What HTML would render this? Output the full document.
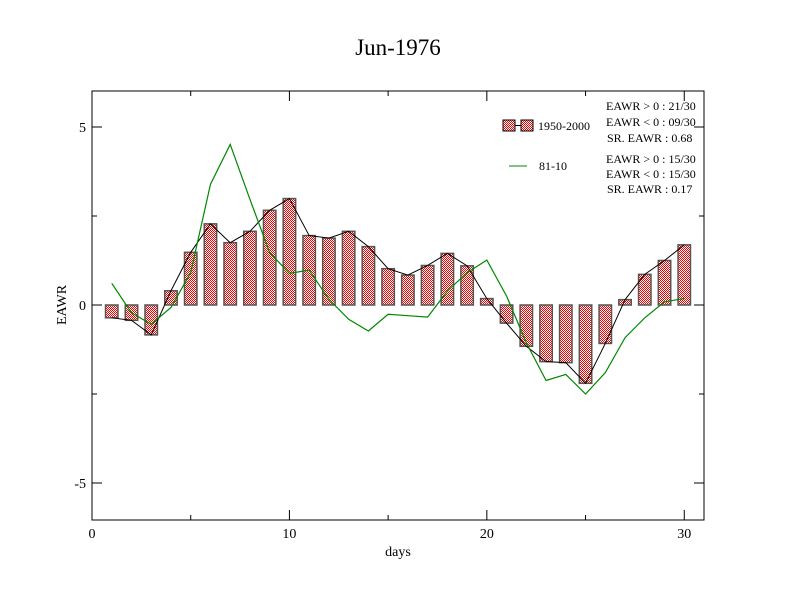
<!DOCTYPE html>
<html><head><meta charset="utf-8"><style>body{margin:0;background:#fff}svg{display:block;font-family:"Liberation Serif",serif}</style></head><body>
<svg id="chart" width="792" height="612" viewBox="0 0 792 612">
<defs><pattern id="chk" width="2" height="2" patternUnits="userSpaceOnUse"><rect width="2" height="2" fill="#fff"/><rect width="1" height="1" fill="#e00"/><rect x="1" y="1" width="1" height="1" fill="#e00"/></pattern></defs>
<text x="398" y="55" font-size="23" text-anchor="middle">Jun-1976</text>
<rect x="92" y="91" width="612" height="429" fill="none" stroke="#000" stroke-width="1"/>
<g id="axes"></g>
<g id="marks"></g>
<text x="398" y="556" font-size="14" text-anchor="middle">days</text>
<text transform="translate(66,305) rotate(-90)" font-size="14" text-anchor="middle">EAWR</text>
<g font-size="12">
<rect x="503" y="120" width="12" height="11" fill="url(#chk)" stroke="#000"/><line x1="515" y1="125.5" x2="521" y2="125.5" stroke="#000"/><rect x="521" y="120" width="12" height="11" fill="url(#chk)" stroke="#000"/>
<text x="538" y="130">1950-2000</text>
<line x1="509" y1="166" x2="527" y2="166" stroke="#080" stroke-width="1"/>
<text x="539" y="170">81-10</text>
<text x="606" font-size="12"><tspan x="606" y="110">EAWR &gt; 0 : 21/30</tspan><tspan x="606" y="126">EAWR &lt; 0 : 09/30</tspan><tspan x="607" y="142">SR. EAWR :  0.68</tspan></text>
<text x="606" font-size="12"><tspan x="606" y="163">EAWR &gt; 0 : 15/30</tspan><tspan x="606" y="178">EAWR &lt; 0 : 15/30</tspan><tspan x="607" y="193">SR. EAWR :  0.17</tspan></text>
</g>
</svg>
<script>
const days=[1,2,3,4,5,6,7,8,9,10,11,12,13,14,15,16,17,18,19,20,21,22,23,24,25,26,27,28,29,30];
const bars1950=[-0.36,-0.43,-0.84,0.40,1.48,2.28,1.75,2.07,2.66,2.99,1.95,1.88,2.07,1.64,1.02,0.84,1.11,1.45,1.10,0.18,-0.51,-1.16,-1.59,-1.62,-2.2,-1.08,0.15,0.86,1.25,1.69];
const line8110=[0.61,-0.22,-0.54,-0.07,0.91,3.39,4.51,2.97,1.47,0.89,0.98,0.16,-0.40,-0.73,-0.26,-0.30,-0.34,0.39,0.91,1.26,0.25,-1.06,-2.12,-1.95,-2.5,-1.9,-0.92,-0.36,0.09,0.18];
const xTicks=[0,10,20,30];
const yTicks=[-5,0,5];
const NS='http://www.w3.org/2000/svg';
const X=v=>92+(v-0)*612/31;
const Y=v=>305-v*35.6;
function mk(tag,attrs,parent){const e=document.createElementNS(NS,tag);for(const k in attrs)e.setAttribute(k,attrs[k]);parent.appendChild(e);return e;}
const ax=document.getElementById('axes'),mg=document.getElementById('marks');
xTicks.forEach(t=>{
 const l=mk('line',{x1:X(t),x2:X(t),y1:520,y2:510,stroke:'#000'},ax);
 
 
 const l2=mk('line',{x1:X(t),x2:X(t),y1:91,y2:101,stroke:'#000'},ax);
 
 
 const tx=mk('text',{x:X(t),y:538,'font-size':14,'text-anchor':'middle'},ax);tx.textContent=t;
 
 
});
[5,15,25].forEach(t=>{mk('line',{x1:X(t),x2:X(t),y1:520,y2:515,stroke:'#000'},ax);mk('line',{x1:X(t),x2:X(t),y1:91,y2:96,stroke:'#000'},ax);});
yTicks.forEach(t=>{
 const l=mk('line',{x1:92,x2:102,y1:Y(t),y2:Y(t),stroke:'#000'},ax);
 
 
 mk('line',{x1:704,x2:694,y1:Y(t),y2:Y(t),stroke:'#000'},ax);
 const tx=mk('text',{x:86,y:Y(t)+5,'font-size':14,'text-anchor':'end'},ax);tx.textContent=t===-5?'-5':t;
 
 
});
[-2.5,2.5].forEach(t=>{mk('line',{x1:92,x2:97,y1:Y(t),y2:Y(t),stroke:'#000'},ax);mk('line',{x1:704,x2:699,y1:Y(t),y2:Y(t),stroke:'#000'},ax);});
const bw=0.63*612/31;
days.forEach((d,i)=>{
 const v=bars1950[i];const y0=Math.min(Y(0),Y(v));const h=Math.abs(Y(v)-Y(0));
 const r=mk('rect',{x:X(d)-bw/2,y:y0,width:bw,height:h,fill:'url(#chk)',stroke:'#555','stroke-width':1.5},mg);
 
 
});
const p1=mk('polyline',{points:days.map((d,i)=>X(d)+','+Y(bars1950[i])).join(' '),fill:'none',stroke:'#000','stroke-width':1},mg);


const p2=mk('polyline',{points:days.map((d,i)=>X(d)+','+Y(line8110[i])).join(' '),fill:'none',stroke:'#080','stroke-width':1.2},mg);


</script>
</body></html>
